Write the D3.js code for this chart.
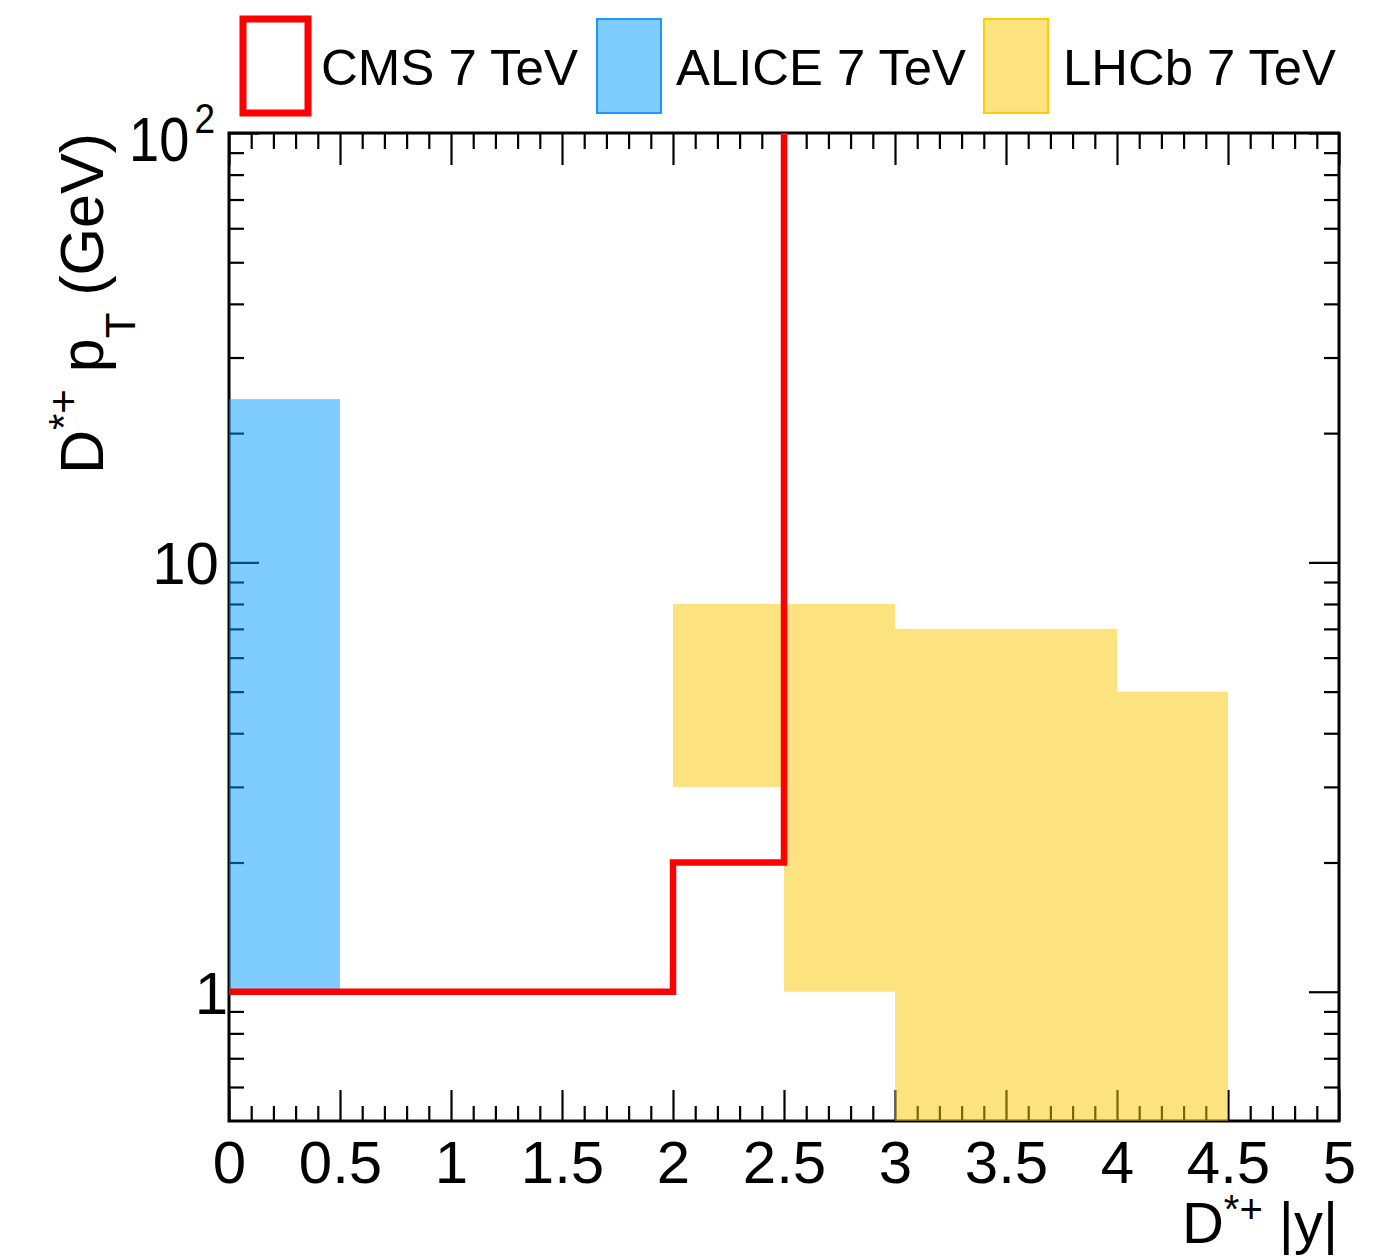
<!DOCTYPE html>
<html>
<head>
<meta charset="utf-8">
<script src="https://cdn.jsdelivr.net/npm/d3@7"></script>
<style>
  html, body { margin: 0; padding: 0; background: #fff; }
  text { font-family: "Liberation Sans", Arial, Helvetica, sans-serif; fill: #000; }
</style>
</head>
<body>
<svg id="chart" width="1374" height="1258"></svg>
<script>
// ---- data ----
const seriesNames = ["CMS 7 TeV", "ALICE 7 TeV", "LHCb 7 TeV"];
// ALICE acceptance box: |y| range and pT range (GeV)
const aliceY0 = [0];
const aliceY1 = [0.5];
const alicePtLo = [1];
const alicePtHi = [24];
// LHCb acceptance bins
const lhcbY0 = [2, 2.5, 3, 4];
const lhcbY1 = [2.5, 3, 4, 4.5];
const lhcbPtLo = [3, 1, 0.5, 0.5];
const lhcbPtHi = [8, 8, 7, 5];
// CMS acceptance boundary (step line)
const cmsY = [0, 2, 2, 2.5, 2.5];
const cmsPt = [1, 1, 2, 2, 100];
// axis ticks
const xMajorTicks = [0, 0.5, 1, 1.5, 2, 2.5, 3, 3.5, 4, 4.5, 5];
const xMinorTicks = d3.range(0, 51).map(i => i / 10).filter(v => Math.abs(v * 2 - Math.round(v * 2)) > 1e-9);
const yMajorTicks = [1, 10, 100];
const yMinorTicks = [0.6, 0.7, 0.8, 0.9, 2, 3, 4, 5, 6, 7, 8, 9, 20, 30, 40, 50, 60, 70, 80, 90];
const xDomain = [0, 5];
const yDomain = [0.5, 100];

// ---- layout ----
const L = 229, R = 1339, T = 133, B = 1121;
const svg = d3.select("#chart");
const x = d3.scaleLinear().domain(xDomain).range([L, R]);
const y = d3.scaleLog().domain(yDomain).range([B, T]);

const BLUE = "#0099ff", YELLOW = "#fcc800";

// ---- axes (drawn beneath translucent fills) ----
function styleAxis(g) {
  g.select(".domain").remove();
  g.selectAll(".tick line").attr("stroke", "#000").attr("stroke-width", 2.2);
}
// bottom
svg.append("g").attr("transform", `translate(0,${B})`)
  .call(d3.axisBottom(x).tickValues(xMajorTicks).tickSize(-31).tickPadding(19).tickFormat(d3.format("~g")))
  .call(styleAxis)
  .call(g => g.selectAll("text").attr("font-size", 60).attr("font-family", "Liberation Sans, Arial, sans-serif"));
svg.append("g").attr("transform", `translate(0,${B})`)
  .call(d3.axisBottom(x).tickValues(xMinorTicks).tickSize(-15).tickFormat(""))
  .call(styleAxis);
// top
svg.append("g").attr("transform", `translate(0,${T})`)
  .call(d3.axisTop(x).tickValues(xMajorTicks).tickSize(-32).tickFormat(""))
  .call(styleAxis);
svg.append("g").attr("transform", `translate(0,${T})`)
  .call(d3.axisTop(x).tickValues(xMinorTicks).tickSize(-16).tickFormat(""))
  .call(styleAxis);
// left
svg.append("g").attr("transform", `translate(${L},0)`)
  .call(d3.axisLeft(y).tickValues(yMajorTicks).tickSize(-30).tickPadding(10)
    .tickFormat(d => d === 100 ? "" : String(d)))
  .call(styleAxis)
  .call(g => g.selectAll("text").attr("font-size", 60).attr("dy", "0.36em")
    .attr("font-family", "Liberation Sans, Arial, sans-serif")
    .attr("dx", d => d === 1 ? 9 : 0));
svg.append("g").attr("transform", `translate(${L},0)`)
  .call(d3.axisLeft(y).tickValues(yMinorTicks).tickSize(-15).tickFormat(""))
  .call(styleAxis);
// right
svg.append("g").attr("transform", `translate(${R},0)`)
  .call(d3.axisRight(y).tickValues(yMajorTicks).tickSize(-30).tickFormat(""))
  .call(styleAxis);
svg.append("g").attr("transform", `translate(${R},0)`)
  .call(d3.axisRight(y).tickValues(yMinorTicks).tickSize(-15).tickFormat(""))
  .call(styleAxis);

// 10^2 label (single text element)
const topLab = svg.append("text")
  .attr("transform", `translate(129,${y(100) + 28}) scale(0.86,1)`)
  .attr("font-size", 63);
topLab.append("tspan").text("10");
topLab.append("tspan").attr("font-size", 43).attr("dx", 6).attr("dy", -28).text("2");

// frame
svg.append("rect").attr("x", x(xDomain[0])).attr("y", y(yDomain[1]))
  .attr("width", x(xDomain[1]) - x(xDomain[0])).attr("height", y(yDomain[0]) - y(yDomain[1]))
  .attr("fill", "none").attr("stroke", "#000").attr("stroke-width", 3);

// ---- fills ----
const plot = svg.append("g");
plot.selectAll("rect.alice").data(aliceY0).join("rect").attr("class", "alice")
  .attr("x", (d, i) => x(aliceY0[i]))
  .attr("width", (d, i) => x(aliceY1[i]) - x(aliceY0[i]))
  .attr("y", (d, i) => y(alicePtHi[i]))
  .attr("height", (d, i) => y(alicePtLo[i]) - y(alicePtHi[i]))
  .attr("fill", BLUE).attr("fill-opacity", 0.5);
plot.selectAll("rect.lhcb").data(lhcbY0).join("rect").attr("class", "lhcb")
  .attr("x", (d, i) => x(lhcbY0[i]))
  .attr("width", (d, i) => x(lhcbY1[i]) - x(lhcbY0[i]))
  .attr("y", (d, i) => y(lhcbPtHi[i]))
  .attr("height", (d, i) => y(lhcbPtLo[i]) - y(lhcbPtHi[i]))
  .attr("fill", YELLOW).attr("fill-opacity", 0.5);

// CMS line
const line = d3.line().x(d => x(d[0])).y(d => y(d[1])).curve(d3.curveLinear);
plot.append("path").datum(cmsY.map((v, i) => [v, cmsPt[i]]))
  .attr("d", line).attr("fill", "none").attr("stroke", "#ff0000")
  .attr("stroke-width", 6.5).attr("stroke-linejoin", "miter");

// ---- legend ----
const leg = svg.append("g");
leg.append("rect").attr("x", 243).attr("y", 19).attr("width", 65).attr("height", 94)
  .attr("fill", "none").attr("stroke", "#ff0000").attr("stroke-width", 7);
leg.append("text").attr("x", 321).attr("y", 85).attr("font-size", 50)
  .attr("textLength", 257).attr("lengthAdjust", "spacingAndGlyphs").text(seriesNames[0]);
leg.append("rect").attr("x", 597).attr("y", 19).attr("width", 64).attr("height", 94)
  .attr("fill", BLUE).attr("fill-opacity", 0.5).attr("stroke", "#1e96ff").attr("stroke-width", 2);
leg.append("text").attr("x", 676).attr("y", 85).attr("font-size", 50)
  .attr("textLength", 290).attr("lengthAdjust", "spacingAndGlyphs").text(seriesNames[1]);
leg.append("rect").attr("x", 984).attr("y", 19).attr("width", 64).attr("height", 94)
  .attr("fill", YELLOW).attr("fill-opacity", 0.5).attr("stroke", "#ffcc00").attr("stroke-width", 2);
leg.append("text").attr("x", 1063).attr("y", 85).attr("font-size", 50)
  .attr("textLength", 273).attr("lengthAdjust", "spacingAndGlyphs").text(seriesNames[2]);

// ---- axis titles ----
const xt = svg.append("text").attr("x", R - 1).attr("y", 1243).attr("text-anchor", "end").attr("font-size", 58);
xt.append("tspan").text("D");
xt.append("tspan").attr("font-size", 40).attr("dy", -20).text("*+");
xt.append("tspan").attr("dy", 20).text(" |y|");

const yt = svg.append("text").attr("transform", `translate(103,${T}) rotate(-90)`)
  .attr("text-anchor", "end").attr("font-size", 61);
yt.append("tspan").text("D");
yt.append("tspan").attr("font-size", 42).attr("dy", -25).text("*+");
yt.append("tspan").attr("dy", 25).text(" p");
yt.append("tspan").attr("font-size", 42).attr("dy", 32).text("T");
yt.append("tspan").attr("dy", -32).text(" (GeV)");
</script>
</body>
</html>
